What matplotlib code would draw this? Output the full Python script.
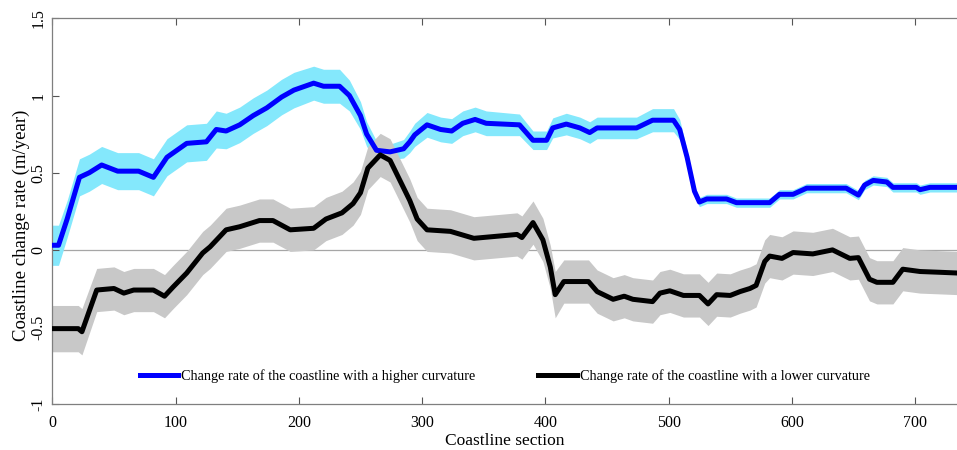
import numpy as np
import matplotlib
matplotlib.use("Agg")
import matplotlib.pyplot as plt

plt.rcParams['font.family'] = ['Liberation Serif', 'DejaVu Serif']

# coastline with a higher curvature (blue)
blue_x = [0, 5, 12, 22, 30, 40, 53, 70, 82, 93,
          109, 125, 133, 141, 152, 163, 174, 186, 196, 212,
          220, 233, 241, 250, 255, 263, 274, 285, 290, 294,
          304, 315, 324, 333, 343, 352, 379, 390, 401, 406,
          417, 428, 436, 442, 474, 487, 504, 509, 515, 521,
          525, 531, 547, 555, 582, 590, 601, 612, 644, 654,
          659, 666, 677, 682, 701, 704, 712, 735]
blue_y = [0.03, 0.03, 0.2, 0.47, 0.5, 0.55, 0.51, 0.51, 0.47, 0.6,
          0.69, 0.70, 0.78, 0.77, 0.81, 0.87, 0.92, 0.99, 1.035, 1.08,
          1.06, 1.06, 1.0, 0.87, 0.75, 0.645, 0.635, 0.655, 0.70, 0.745,
          0.81, 0.78, 0.77, 0.82, 0.845, 0.82, 0.81, 0.71, 0.71, 0.79,
          0.815, 0.79, 0.76, 0.79, 0.79, 0.84, 0.84, 0.78, 0.60, 0.38,
          0.31, 0.33, 0.33, 0.306, 0.306, 0.36, 0.36, 0.40, 0.40, 0.355,
          0.42, 0.45, 0.44, 0.405, 0.405, 0.39, 0.405, 0.405]
blue_err = [0.13, 0.13, 0.12, 0.12, 0.12, 0.12, 0.12, 0.12, 0.12, 0.12,
            0.12, 0.12, 0.12, 0.115, 0.115, 0.115, 0.115, 0.115, 0.115, 0.11,
            0.11, 0.11, 0.10, 0.09, 0.08, 0.06, 0.05, 0.06, 0.07, 0.075,
            0.08, 0.08, 0.08, 0.08, 0.08, 0.08, 0.07, 0.06, 0.06, 0.065,
            0.07, 0.07, 0.07, 0.07, 0.07, 0.075, 0.075, 0.065, 0.045, 0.035,
            0.03, 0.03, 0.03, 0.03, 0.03, 0.03, 0.03, 0.03, 0.03, 0.03,
            0.03, 0.03, 0.03, 0.03, 0.03, 0.03, 0.03, 0.03]

# coastline with a lower curvature (black)
black_x = [0, 21, 24, 36, 50, 58, 66, 82, 91, 98,
           109, 122, 128, 141, 152, 168, 179, 193, 212, 222,
           235, 244, 250, 256, 266, 274, 282, 290, 296, 304,
           323, 342, 363, 377, 381, 390, 398, 404, 408, 415,
           435, 442, 455, 464, 471, 487, 493, 501, 512, 525,
           532, 539, 550, 558, 566, 571, 578, 582, 592, 601,
           617, 633, 647, 654, 663, 669, 682, 690, 704, 720,
           735]
black_y = [-0.51, -0.51, -0.53, -0.26, -0.25, -0.28, -0.26, -0.26, -0.30, -0.24,
           -0.15, -0.02, 0.02, 0.13, 0.15, 0.19, 0.19, 0.13, 0.14, 0.20,
           0.24, 0.30, 0.37, 0.53, 0.615, 0.58, 0.45, 0.32, 0.20, 0.13,
           0.12, 0.075, 0.09, 0.10, 0.08, 0.177, 0.065, -0.11, -0.29, -0.205,
           -0.205, -0.27, -0.32, -0.30, -0.32, -0.335, -0.28, -0.265, -0.295, -0.295,
           -0.35, -0.29, -0.295, -0.27, -0.25, -0.23, -0.075, -0.04, -0.055, -0.017,
           -0.026, 0.0, -0.055, -0.05, -0.19, -0.21, -0.21, -0.125, -0.14, -0.145,
           -0.15]
black_err = [0.15, 0.15, 0.15, 0.14, 0.14, 0.14, 0.14, 0.14, 0.14, 0.14,
             0.14, 0.14, 0.14, 0.14, 0.14, 0.14, 0.14, 0.14, 0.14, 0.14,
             0.14, 0.14, 0.14, 0.14, 0.14, 0.14, 0.14, 0.14, 0.14, 0.14,
             0.14, 0.14, 0.14, 0.14, 0.14, 0.14, 0.14, 0.14, 0.15, 0.14,
             0.14, 0.14, 0.14, 0.14, 0.14, 0.14, 0.14, 0.14, 0.14, 0.14,
             0.14, 0.14, 0.14, 0.14, 0.14, 0.14, 0.14, 0.14, 0.14, 0.14,
             0.14, 0.14, 0.14, 0.14, 0.14, 0.14, 0.14, 0.14, 0.14, 0.14,
             0.14]

label_hi = "Change rate of the coastline with a higher curvature"
label_lo = "Change rate of the coastline with a lower curvature"

bx = np.array(blue_x); by = np.array(blue_y); be = np.array(blue_err)
kx = np.array(black_x); ky = np.array(black_y); ke = np.array(black_err)

fig = plt.figure(figsize=(9.57, 4.5), dpi=100)
ax = fig.add_axes([0.0547, 0.1016, 0.9453, 0.8577])

ax.axhline(0, color='#a6a6a6', lw=0.9, zorder=0)
ax.fill_between(bx, by - be, by + be, color='#84e8fc', lw=0, zorder=1)
ax.fill_between(kx, ky - ke, ky + ke, color='#c8c8c8', lw=0, zorder=1)
ax.plot(bx, by, color='#0000ff', lw=3.6, label=label_hi, zorder=3,
        solid_joinstyle='round')
ax.plot(kx, ky, color='black', lw=3.6, label=label_lo, zorder=3,
        solid_joinstyle='round')

ax.set_xlim(0, 734)
ax.set_ylim(-1, 1.5)
ax.set_xticks([0, 100, 200, 300, 400, 500, 600, 700])
ax.set_yticks([-1, -0.5, 0, 0.5, 1, 1.5])
ax.set_yticklabels(['-1', '-0.5', '0', '0.5', '1', '1.5'], rotation=90, va='center')
ax.tick_params(direction='in', length=5, width=0.8, color='#555555',
               labelsize=11.5, top=True, right=False)
ax.tick_params(axis='x', pad=8)
ax.tick_params(axis='y', pad=4)
for side in ['top', 'bottom', 'left']:
    ax.spines[side].set_color('#7f7f7f')
    ax.spines[side].set_linewidth(0.9)
ax.spines['right'].set_visible(False)

ax.set_xlabel("Coastline section", fontsize=12.5, labelpad=1)
ax.set_ylabel("Coastline change rate (m/year)", fontsize=13.5)
ax.yaxis.set_label_coords(-0.025, 0.464)

ax.legend(loc='center', bbox_to_anchor=(0.5, 0.073), ncol=2, frameon=False,
          fontsize=10.3, handlelength=2.7, handletextpad=0.2, columnspacing=4.4)

fig.savefig("out.png", dpi=100)
